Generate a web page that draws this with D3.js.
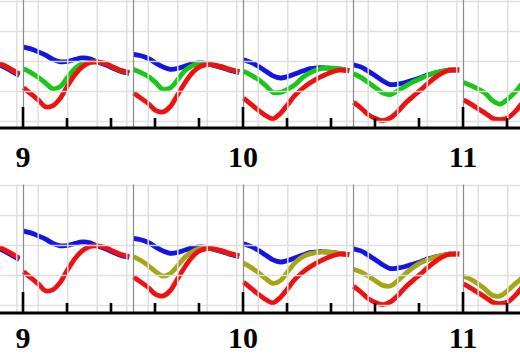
<!DOCTYPE html>
<html><head><meta charset="utf-8">
<script src="https://cdn.jsdelivr.net/npm/d3@7"></script>
<style>html,body{margin:0;padding:0;background:#fff;} svg{display:block}</style>
</head><body>
<svg id="c" width="520" height="354"></svg>
<script>
// ---- data ----
const hours = [0,1.5,3,4.5,6,7.5,9,10.5,12,13.5,15,16.5,18,19.5,21.5];
const segmentStarts = [8.5, 9, 9.5, 10, 10.5, 11];
const majorTicks = [9, 10, 11];
const minorTicks = [8.8, 9.2, 9.4, 9.6, 9.8, 10.2, 10.4, 10.6, 10.8, 11.2, 11.4];
const tickLabels = ["9", "10", "11"];
const yGridValues = [0, 10, 20, 30, 40];
const hourGridValues = [3, 9, 15, 21];
const N = null;

const blueSeries = [
  [N,N,N,N,N,N,N,N,N,N,N,19.3,18.5,17.2,15.3],
  [24.8,24.2,23.2,22.1,20.7,19.9,20.0,20.7,21.2,20.9,19.8,19.0,17.9,16.8,16.0],
  [22.4,21.9,21.0,19.5,18.2,17.4,17.7,18.5,19.2,19.5,19.3,18.6,17.9,17.1,16.3],
  [20.6,19.7,18.4,16.8,15.2,14.5,15.0,15.9,16.8,17.6,17.9,17.9,17.7,17.4,16.9],
  [18.9,18.2,16.8,15.2,13.5,12.3,12.5,13.0,13.7,14.5,15.5,16.1,16.7,17.1,17.1],
  [N,N,N,N,N,N,N,N,N,N,N,N,N,N,N]
];
const greenSeries = [
  [N,N,N,N,N,N,N,N,N,N,N,19.8,19.0,17.7,15.8],
  [17.6,16.3,14.7,12.8,10.9,11.7,14.8,17.7,19.3,19.7,19.9,19.4,18.3,17.2,16.4],
  [17.3,16.3,15.0,13.0,10.7,11.2,14.0,17.0,18.6,19.4,19.3,18.8,18.2,17.4,16.6],
  [16.8,15.5,14.0,12.0,9.7,9.7,10.8,12.3,14.6,16.2,17.3,17.8,17.8,17.6,17.0],
  [15.9,14.7,13.0,11.2,9.5,9.0,10.2,11.7,13.1,14.2,15.3,16.2,16.8,17.2,17.2],
  [13.0,12.0,10.8,9.3,6.8,5.8,7.5,9.8,12.7,15.0,16.7,17.3,17.5,17.5,17.3]
];
const redSeries = [
  [N,N,N,N,N,N,N,N,N,N,N,19.8,19.0,17.7,15.8],
  [11.3,9.2,7.2,4.9,5.3,7.8,12.0,15.7,18.3,19.7,19.9,19.4,18.3,17.2,16.4],
  [9.5,7.8,6.0,3.7,3.2,5.0,9.0,13.0,16.3,18.3,19.0,18.8,18.2,17.4,16.6],
  [7.8,5.8,3.8,2.0,0.9,2.7,5.7,8.8,11.0,12.8,14.3,15.5,16.5,17.1,17.0],
  [6.4,4.5,2.3,1.0,0.3,1.2,3.3,6.0,8.2,10.3,12.5,14.5,16.1,17.1,17.2],
  [7.2,5.8,4.2,2.7,1.0,0.6,1.2,3.3,6.3,9.3,12.0,14.3,16.0,16.8,17.0]
];
const oliveSeries = [
  [N,N,N,N,N,N,N,N,N,N,N,N,N,N,N],
  [N,N,N,N,N,N,N,N,N,N,N,N,N,N,N],
  [16.3,15.0,13.3,11.3,9.8,10.7,13.3,16.2,18.0,19.0,19.3,18.8,18.2,17.4,16.6],
  [14.1,12.7,11.0,9.0,7.4,8.3,11.3,14.3,16.2,17.2,17.7,17.9,17.7,17.4,16.9],
  [12.1,11.2,9.8,8.2,6.7,6.5,8.3,10.5,12.5,14.1,15.2,16.1,16.7,17.1,17.2],
  [9.8,8.7,7.2,5.3,3.3,3.2,5.0,7.2,9.3,11.7,14.0,15.7,16.7,17.0,17.0]
];

const panels = [
  { series: [["#1414e6", blueSeries], ["#18c818", greenSeries], ["#f01010", redSeries]],
    yTop: 1.5, yBottom: 121.5, axisY: 128, labelY: 167 },
  { series: [["#1414e6", blueSeries], ["#a6a614", oliveSeries], ["#f01010", redSeries]],
    yTop: 185.5, yBottom: 305.5, axisY: 313, labelY: 348 }
];

// ---- drawing ----
const W = 520, H = 354;
const svg = d3.select("#c");
const xOuter = d3.scaleLinear().domain([9, 11]).range([23, 463]);
const inner = d3.scaleLinear().domain([0, 24]).range([0.5, 118.5]);

panels.forEach(p => {
  const g = svg.append("g");
  const y = d3.scaleLinear().domain([0, 40]).range([p.yBottom, p.yTop]);
  const gridTop = p.yTop === 1.5 ? 0 : p.yTop - 1;

  // curves
  const line = d3.line()
    .defined(d => d.v !== null)
    .x(d => d.x).y(d => y(d.v))
    .curve(d3.curveCatmullRom.alpha(0.5));
  p.series.forEach(([color, segs]) => {
    segs.forEach((vals, si) => {
      const x0 = xOuter(segmentStarts[si]);
      const pts = hours.map((h, i) => ({ x: x0 + inner(h), v: vals[i] }));
      g.append("path").attr("d", line(pts))
        .attr("fill", "none").attr("stroke", color)
        .attr("stroke-width", 4.8).attr("stroke-linecap", "butt")
        .attr("stroke-linejoin", "round");
    });
  });

  // light grid on top
  const grid = g.append("g").attr("stroke", "#dedede").attr("stroke-width", 1.6).attr("opacity", 0.92);
  yGridValues.forEach(v => {
    grid.append("line").attr("x1", 0).attr("x2", W).attr("y1", y(v)).attr("y2", y(v));
  });
  segmentStarts.forEach(s => {
    hourGridValues.forEach(h => {
      const xx = xOuter(s) + inner(h);
      grid.append("line").attr("x1", xx).attr("x2", xx).attr("y1", gridTop).attr("y2", p.axisY);
    });
  });
  // segment separators
  segmentStarts.forEach(s => {
    const xx = Math.round(xOuter(s)) + 0.5;
    g.append("line").attr("x1", xx).attr("x2", xx).attr("y1", gridTop).attr("y2", p.axisY)
      .attr("stroke", "#8a8a8a").attr("stroke-width", 1.2);
  });

  // axis
  g.append("line").attr("x1", 0).attr("x2", W).attr("y1", p.axisY).attr("y2", p.axisY)
    .attr("stroke", "#000").attr("stroke-width", 3);
  majorTicks.forEach(t => {
    g.append("line").attr("x1", xOuter(t)).attr("x2", xOuter(t))
      .attr("y1", p.axisY).attr("y2", p.axisY - 21)
      .attr("stroke", "#000").attr("stroke-width", 2.6);
  });
  minorTicks.forEach(t => {
    g.append("line").attr("x1", xOuter(t)).attr("x2", xOuter(t))
      .attr("y1", p.axisY).attr("y2", p.axisY - 10)
      .attr("stroke", "#000").attr("stroke-width", 2.6);
  });
  majorTicks.forEach((t, i) => {
    g.append("text").attr("x", xOuter(t)).attr("y", p.labelY)
      .attr("text-anchor", "middle")
      .attr("font-family", "'Liberation Serif', 'DejaVu Serif', serif")
      .attr("font-weight", "bold").attr("font-size", 30)
      .attr("fill", "#000").text(tickLabels[i]);
  });
});
</script>
</body></html>
